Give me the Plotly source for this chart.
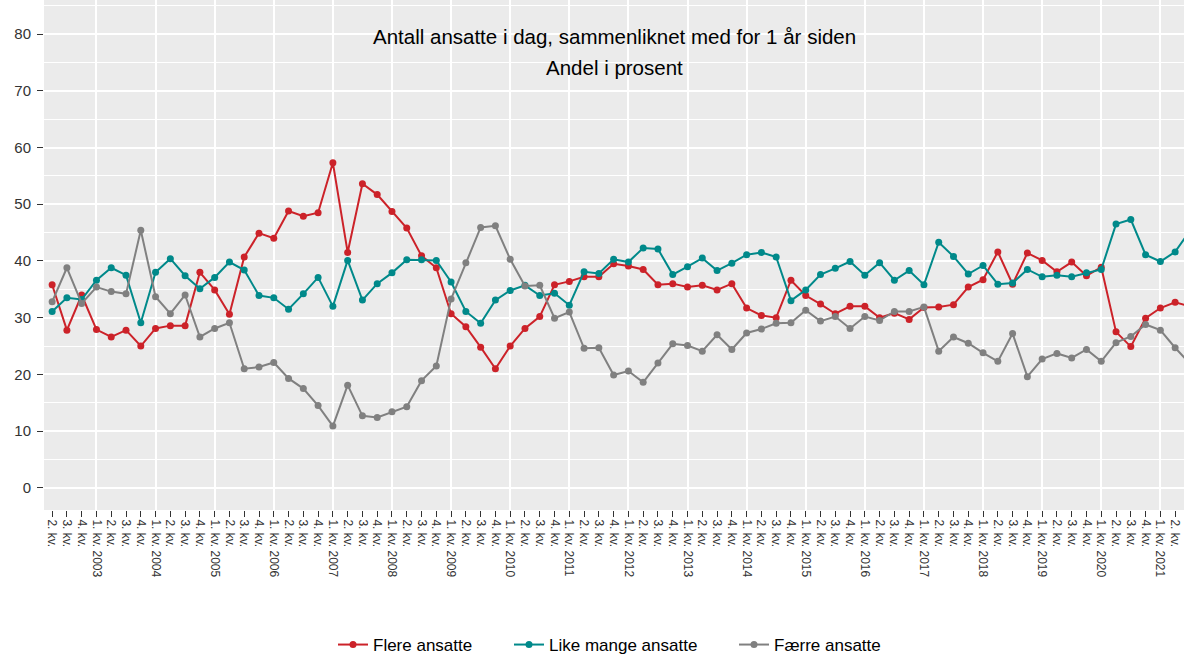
import plotly.graph_objects as go

# kvartaler fra 2. kv. 2002 til 3. kv. 2021
years = list(range(2002, 2022))
quarters = [(y, q) for y in years for q in (1, 2, 3, 4)][1:-1]
tick_labels = [f"{q}. kv. {y}" if q == 1 else f"{q}. kv." for y, q in quarters]

flere = [35.8, 27.8, 34.0, 27.9, 26.6, 27.8, 25.0, 28.1, 28.6, 28.6,
         38.0, 34.9, 30.6, 40.7, 44.9, 44.0, 48.8, 47.9, 48.5, 57.3,
         41.5, 53.6, 51.7, 48.7, 45.8, 40.9, 38.8, 30.7, 28.4, 24.8,
         21.0, 25.0, 28.1, 30.2, 35.8, 36.4, 37.2, 37.2, 39.5, 39.1,
         38.5, 35.8, 36.0, 35.4, 35.7, 34.9, 36.0, 31.7, 30.4, 30.0,
         36.6, 33.9, 32.4, 30.7, 32.0, 32.0, 30.0, 30.8, 29.7, 31.8,
         31.9, 32.3, 35.4, 36.7, 41.6, 35.9, 41.4, 40.1, 38.1, 39.8,
         37.4, 38.9, 27.5, 24.9, 29.9, 31.7, 32.7, 32.0]

like_mange = [31.1, 33.5, 33.2, 36.6, 38.8, 37.5, 29.1, 38.0, 40.4, 37.4,
              35.1, 37.1, 39.8, 38.4, 33.9, 33.5, 31.5, 34.2, 37.1, 32.0,
              40.1, 33.1, 36.0, 37.9, 40.2, 40.2, 40.1, 36.3, 31.1, 29.0,
              33.1, 34.8, 35.7, 33.9, 34.3, 32.2, 38.1, 37.8, 40.3, 39.8,
              42.3, 42.1, 37.6, 39.0, 40.5, 38.3, 39.6, 41.1, 41.5, 40.7,
              33.0, 34.9, 37.6, 38.7, 39.9, 37.5, 39.7, 36.6, 38.3, 35.8,
              43.3, 40.8, 37.7, 39.2, 35.9, 36.1, 38.5, 37.2, 37.5, 37.2,
              37.9, 38.5, 46.5, 47.3, 41.1, 39.9, 41.6, 45.3]

faerre = [32.8, 38.8, 32.5, 35.4, 34.6, 34.2, 45.4, 33.7, 30.7, 34.0,
          26.6, 28.1, 29.1, 21.0, 21.3, 22.1, 19.3, 17.5, 14.5, 10.9,
          18.1, 12.7, 12.4, 13.4, 14.3, 18.9, 21.5, 33.3, 39.7, 45.9,
          46.2, 40.3, 35.6, 35.7, 29.9, 31.0, 24.6, 24.7, 19.9, 20.6,
          18.6, 22.0, 25.4, 25.1, 24.1, 27.0, 24.4, 27.3, 28.0, 29.0,
          29.1, 31.3, 29.4, 30.2, 28.1, 30.2, 29.5, 31.1, 31.1, 31.9,
          24.1, 26.6, 25.5, 23.8, 22.3, 27.2, 19.6, 22.7, 23.7, 22.9,
          24.4, 22.3, 25.6, 26.7, 28.8, 27.8, 24.7, 21.9]

series = [("Flere ansatte", flere, "#CC2229"),
          ("Like mange ansatte", like_mange, "#00898A"),
          ("Færre ansatte", faerre, "#808080")]

x = list(range(len(quarters)))
year_starts = [i for i, (y, q) in enumerate(quarters) if q == 1]
xrange = [-0.55, 76.6]

font = "Liberation Sans, Arial, sans-serif"
legend_x = [333, 509, 734]  # venstre kant for hver forklaring, px

fig = go.Figure()
for k, (name, vals, col) in enumerate(series):
    lg = "legend" if k == 0 else f"legend{k + 1}"
    fig.add_trace(go.Scatter(x=x, y=vals, name=name, mode="lines+markers",
                             line=dict(color=col, width=2),
                             marker=dict(color=col, size=7), legend=lg))
    fig.update_layout({lg: dict(xref="container", yref="container",
                                x=legend_x[k] / 1184, xanchor="left",
                                y=11 / 656, yanchor="middle",
                                bgcolor="rgba(0,0,0,0)",
                                font=dict(size=17, color="black"))})

fig.update_layout(
    width=1184, height=656,
    margin=dict(l=44, r=0, t=0, b=146, autoexpand=False),
    paper_bgcolor="white",
    plot_bgcolor="#EBEBEB",
    font=dict(family=font, color="#333333"),
    showlegend=True,
    xaxis=dict(range=xrange, tickvals=x, ticktext=tick_labels,
               tickangle=90, tickfont=dict(size=12, color="#333333"),
               ticks="outside", ticklen=6, tickcolor="#333333",
               showgrid=False, zeroline=False, showline=False,
               automargin=False),
    xaxis2=dict(overlaying="x", matches="x", side="bottom",
                tickvals=year_starts, showticklabels=False, ticks="",
                showgrid=True, gridcolor="white", gridwidth=2,
                zeroline=False, showline=False, automargin=False),
    yaxis=dict(range=[-3.9, 86.0], dtick=10, tick0=0,
               tickfont=dict(size=15, color="#333333"),
               ticks="outside", ticklen=6, tickcolor="#333333",
               ticklabelstandoff=3,
               showgrid=True, gridcolor="white", gridwidth=2,
               minor=dict(dtick=5, showgrid=True, gridcolor="white",
                          gridwidth=1),
               zeroline=False, showline=False, automargin=False),
)

# usynlig spor slik at xaxis2 tegnes
fig.add_trace(go.Scatter(x=[x[0]], y=[None], xaxis="x2", showlegend=False,
                         hoverinfo="skip"))

fig.add_annotation(text="Antall ansatte i dag, sammenliknet med for 1 år siden",
                   xref="paper", yref="paper", x=0.5, y=1 - 37 / 510,
                   yanchor="middle", showarrow=False,
                   font=dict(size=20.5, color="black"))
fig.add_annotation(text="Andel i prosent",
                   xref="paper", yref="paper", x=0.5, y=1 - 68 / 510,
                   yanchor="middle", showarrow=False,
                   font=dict(size=20.5, color="black"))

fig.write_html("out.html", config={"displayModeBar": False},
               post_script="document.body.style.margin='0';"
                           "document.body.style.overflow='hidden';")
